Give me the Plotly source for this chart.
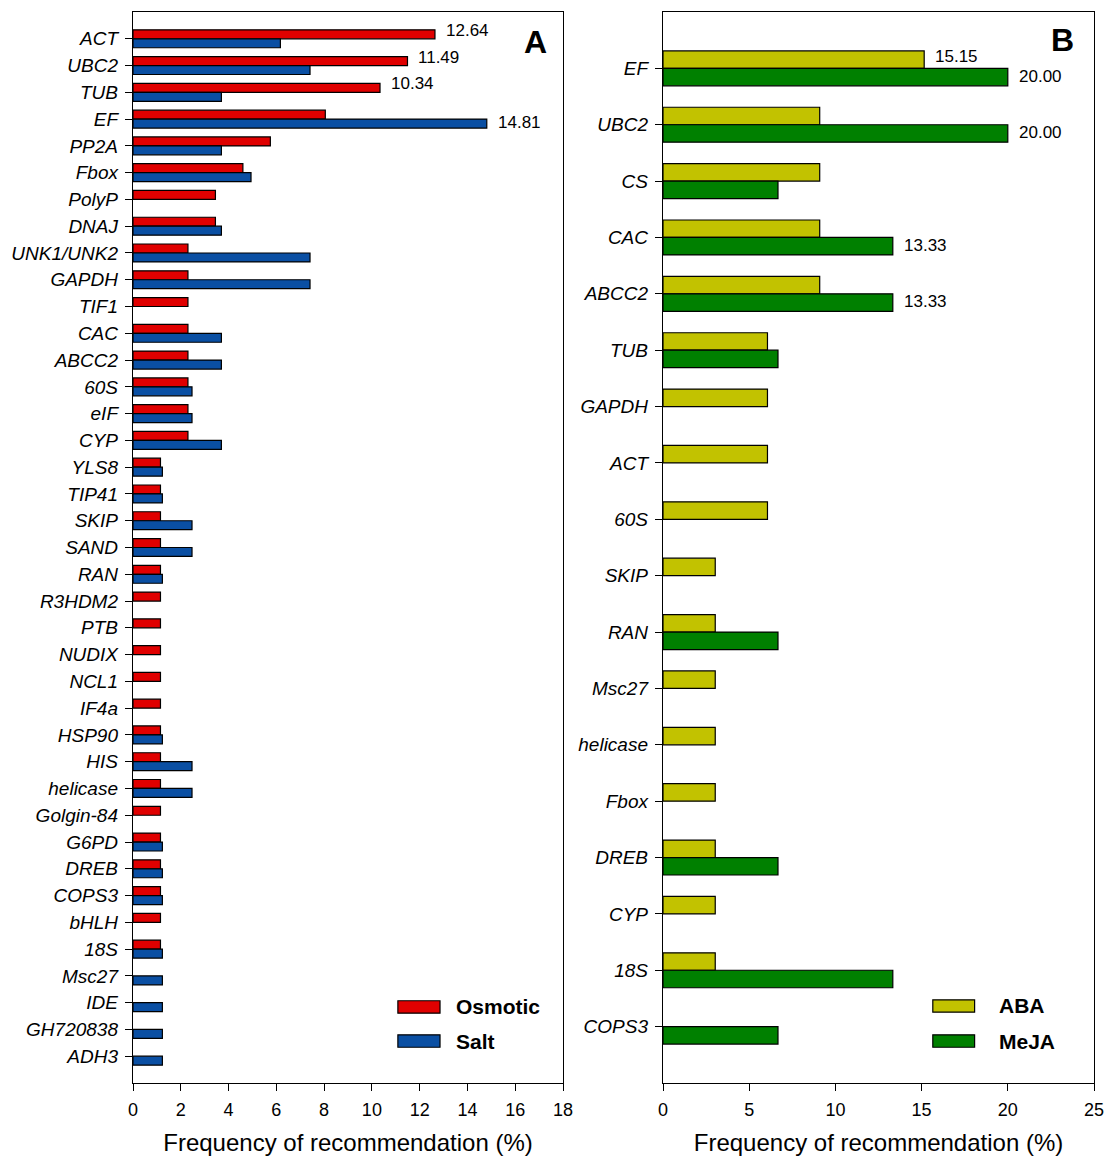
import plotly.graph_objects as go

# ---- Panel A: osmotic vs salt stress ----
genes_a = ["ACT", "UBC2", "TUB", "EF", "PP2A", "Fbox", "PolyP", "DNAJ", "UNK1/UNK2",
           "GAPDH", "TIF1", "CAC", "ABCC2", "60S", "eIF", "CYP", "YLS8", "TIP41", "SKIP",
           "SAND", "RAN", "R3HDM2", "PTB", "NUDIX", "NCL1", "IF4a", "HSP90", "HIS",
           "helicase", "Golgin-84", "G6PD", "DREB", "COPS3", "bHLH", "18S", "Msc27",
           "IDE", "GH720838", "ADH3"]
osmotic = [12.64, 11.49, 10.34, 8.05, 5.75, 4.60, 3.45, 3.45, 2.30,
           2.30, 2.30, 2.30, 2.30, 2.30, 2.30, 2.30, 1.15, 1.15, 1.15,
           1.15, 1.15, 1.15, 1.15, 1.15, 1.15, 1.15, 1.15, 1.15,
           1.15, 1.15, 1.15, 1.15, 1.15, 1.15, 1.15, None,
           None, None, None]
salt = [6.17, 7.41, 3.70, 14.81, 3.70, 4.94, None, 3.70, 7.41,
        7.41, None, 3.70, 3.70, 2.47, 2.47, 3.70, 1.23, 1.23, 2.47,
        2.47, 1.23, None, None, None, None, None, 1.23, 2.47,
        2.47, None, 1.23, 1.23, 1.23, None, 1.23, 1.23,
        1.23, 1.23, 1.23]
labelled_osmotic = ["ACT", "UBC2", "TUB"]
labelled_salt = ["EF"]

# ---- Panel B: ABA vs MeJA treatment ----
genes_b = ["EF", "UBC2", "CS", "CAC", "ABCC2", "TUB", "GAPDH", "ACT", "60S", "SKIP",
           "RAN", "Msc27", "helicase", "Fbox", "DREB", "CYP", "18S", "COPS3"]
aba = [15.15, 9.09, 9.09, 9.09, 9.09, 6.06, 6.06, 6.06, 6.06, 3.03,
       3.03, 3.03, 3.03, 3.03, 3.03, 3.03, 3.03, None]
meja = [20.00, 20.00, 6.67, 13.33, 13.33, 6.67, None, None, None, None,
        6.67, None, None, None, 6.67, None, 13.33, 6.67]
labelled_aba = ["EF"]
labelled_meja = ["EF", "UBC2", "CAC", "ABCC2"]

AXIS_TITLE = "Frequency of recommendation (%)"

RED = "#E00000"
BLUE = "#0A4FA3"
OLIVE = "#C2C200"
GREEN = "#008000"
FONT = "Liberation Sans, Arial, sans-serif"

W, H = 1105, 1159
M_L, M_R, M_T, M_B = 0, 11, 12, 76
PW = W - M_L - M_R

BAR_A = 0.335
BAR_B = 0.31

fig = go.Figure()


def add_pair(names, upper, lower, colors, width, xa, ya, legend_names):
    idx = list(range(len(names)))
    # upper bar sits above the tick, lower bar just below it (axis is reversed)
    fig.add_trace(go.Bar(y=idx, x=upper, orientation="h", offset=-width, width=width,
                         marker=dict(color=colors[0], line=dict(color="black", width=1.2)),
                         name=legend_names[0], xaxis=xa, yaxis=ya, showlegend=False))
    fig.add_trace(go.Bar(y=idx, x=lower, orientation="h", offset=0, width=width,
                         marker=dict(color=colors[1], line=dict(color="black", width=1.2)),
                         name=legend_names[1], xaxis=xa, yaxis=ya, showlegend=False))


add_pair(genes_a, osmotic, salt, (RED, BLUE), BAR_A, "x", "y", ("Osmotic", "Salt"))
add_pair(genes_b, aba, meja, (OLIVE, GREEN), BAR_B, "x2", "y2", ("ABA", "MeJA"))

annotations = []


def value_labels(names, values, chosen, center_offset, xa, ya, yshift):
    for name in chosen:
        i = names.index(name)
        v = values[i]
        annotations.append(dict(x=v, y=i + center_offset, xref=xa, yref=ya,
                                text=f"{v:.2f}", showarrow=False, xanchor="left",
                                yanchor="middle", xshift=9, yshift=yshift,
                                font=dict(family=FONT, size=17, color="black")))


value_labels(genes_a, osmotic, labelled_osmotic, -BAR_A / 2, "x", "y", 4)
value_labels(genes_a, salt, labelled_salt, BAR_A / 2, "x", "y", 1)
value_labels(genes_b, aba, labelled_aba, -BAR_B / 2, "x2", "y2", 3)
value_labels(genes_b, meja, labelled_meja, BAR_B / 2, "x2", "y2", 1)

# panel letters
annotations.append(dict(x=0.937, y=0.972, xref="x domain", yref="y domain", text="<b>A</b>",
                        showarrow=False, xanchor="center", yanchor="middle",
                        font=dict(family=FONT, size=32, color="black")))
annotations.append(dict(x=0.928, y=0.974, xref="x2 domain", yref="y2 domain", text="<b>B</b>",
                        showarrow=False, xanchor="center", yanchor="middle",
                        font=dict(family=FONT, size=32, color="black")))

# hand-drawn legends with wide swatches
shapes = []


def legend(xa, ya, entries, sw_x0, sw_x1, text_x):
    for label, color, yc in entries:
        shapes.append(dict(type="rect", xref=f"{xa} domain", yref=f"{ya} domain",
                           x0=sw_x0, x1=sw_x1, y0=yc - 0.0058, y1=yc + 0.0058,
                           fillcolor=color, line=dict(color="black", width=1.2)))
        annotations.append(dict(x=text_x, y=yc, xref=f"{xa} domain", yref=f"{ya} domain",
                                text=f"<b>{label}</b>", showarrow=False, xanchor="left",
                                yanchor="middle",
                                font=dict(family=FONT, size=21, color="black")))


legend("x", "y", [("Osmotic", RED, 0.071), ("Salt", BLUE, 0.0392)], 0.616, 0.714, 0.747)
legend("x2", "y2", [("ABA", OLIVE, 0.0719), ("MeJA", GREEN, 0.0392)], 0.626, 0.723, 0.775)


def xdom(a, b):
    return [(a - M_L) / PW, (b - M_L) / PW]


axis_common = dict(showline=True, linecolor="black", linewidth=1.4, mirror=True,
                   ticks="outside", ticklen=7, tickwidth=1.2, tickcolor="black",
                   showgrid=False, zeroline=False, automargin=False)

fig.update_layout(
    width=W, height=H,
    margin=dict(l=M_L, r=M_R, t=M_T, b=M_B),
    paper_bgcolor="white", plot_bgcolor="white",
    barmode="overlay",
    font=dict(family=FONT, color="black"),
    xaxis=dict(domain=xdom(133, 563), range=[0, 18], dtick=2, anchor="y",
               tickfont=dict(family=FONT, size=18, color="black"),
               ticklabelstandoff=3,
               title=dict(text=AXIS_TITLE, font=dict(family=FONT, size=24, color="black"),
                          standoff=15),
               **axis_common),
    yaxis=dict(domain=[0, 1], range=[39, -1], anchor="x",
               tickvals=list(range(len(genes_a))), ticktext=genes_a,
               tickfont=dict(family=FONT, size=19, color="black", style="italic"),
               ticklabelstandoff=3,
               **axis_common),
    xaxis2=dict(domain=xdom(663, 1094), range=[0, 25], dtick=5, anchor="y2",
                tickfont=dict(family=FONT, size=18, color="black"),
                ticklabelstandoff=3,
                title=dict(text=AXIS_TITLE, font=dict(family=FONT, size=24, color="black"),
                           standoff=15),
                **axis_common),
    yaxis2=dict(domain=[0, 1], range=[18, -1], anchor="x2",
                tickvals=list(range(len(genes_b))), ticktext=genes_b,
                tickfont=dict(family=FONT, size=19, color="black", style="italic"),
                ticklabelstandoff=3,
                **axis_common),
    annotations=annotations,
    shapes=shapes,
)

fig.write_html("out.html")
